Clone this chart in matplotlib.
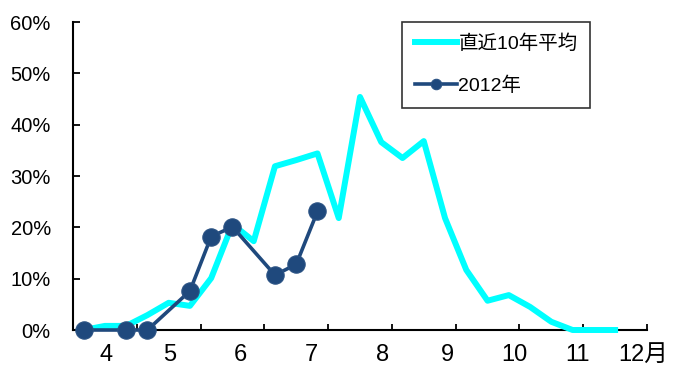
import numpy as np
import matplotlib.pyplot as plt

plt.rcParams['font.family'] = ['Liberation Sans', 'Noto Sans CJK JP']

# dekad index (3 per month, starting early April)
dekads = np.arange(26)
avg10 = [0, 0.8, 0.8, 2.9, 5.3, 4.7, 10.1, 20.6, 17.3, 31.9, 33.1, 34.4, 21.8,
         45.4, 36.6, 33.5, 36.8, 21.8, 11.7, 5.7, 6.8, 4.5, 1.6, 0, 0, 0]

x2012 = [0, 2, 3, 5, 6, 7, 9, 10, 11]
y2012 = [0, 0, 0, 7.6, 18.2, 20.1, 10.7, 12.8, 23.1]

month_labels = ['4', '5', '6', '7', '8', '9', '10', '11', '12月']
month_pos = [1.05, 4.06, 7.35, 10.69, 14.08, 17.09, 20.24, 23.25, 25.15]

fig = plt.figure(figsize=(6.77, 3.71), dpi=100)
ax = fig.add_axes([73 / 677, 1 - 330 / 371, 574 / 677, 308 / 371])

ax.plot(dekads, avg10, color='#00FFFF', lw=4.3, label='直近10年平均',
        zorder=3, clip_on=False)
ax.plot(x2012, y2012, color='#1F497D', lw=2.6, marker='o', ms=12.5,
        markeredgecolor='#2B5384', markeredgewidth=0.8,
        label='2012年', zorder=4, clip_on=False)

ax.set_xlim(-0.5, 26.5)
ax.set_ylim(0, 60)

for side in ['top', 'right']:
    ax.spines[side].set_visible(False)
for side in ['left', 'bottom']:
    ax.spines[side].set_linewidth(1.5)

ax.set_yticks(np.arange(0, 61, 10))
ax.set_yticklabels([f'{v}%' for v in range(0, 61, 10)])
ax.tick_params(axis='y', direction='in', length=5, width=1.3, pad=16,
               labelsize=14.5)

# month boundaries as ticks, month names as separate label ticks
ax.set_xticks(np.arange(-0.5, 27, 3))
ax.set_xticklabels([])
ax.tick_params(axis='x', which='major', direction='in', length=4, width=1.3)
ax.set_xticks(month_pos, minor=True)
ax.set_xticklabels(month_labels, minor=True)
ax.tick_params(axis='x', which='minor', length=0, pad=10, labelsize=17)
ax.get_xticklabels(minor=True)[-1].set_horizontalalignment('left')

leg = ax.legend(loc='upper left', bbox_to_anchor=(402 / 677, 1 - 22 / 371),
                bbox_transform=fig.transFigure, fontsize=14, frameon=True,
                fancybox=False, edgecolor='black', labelspacing=1.2,
                handlelength=2.2, handletextpad=0.05, borderpad=0.65,
                markerscale=0.6, borderaxespad=0)
leg.get_frame().set_linewidth(1.2)

fig.savefig('out.png', dpi=100)
